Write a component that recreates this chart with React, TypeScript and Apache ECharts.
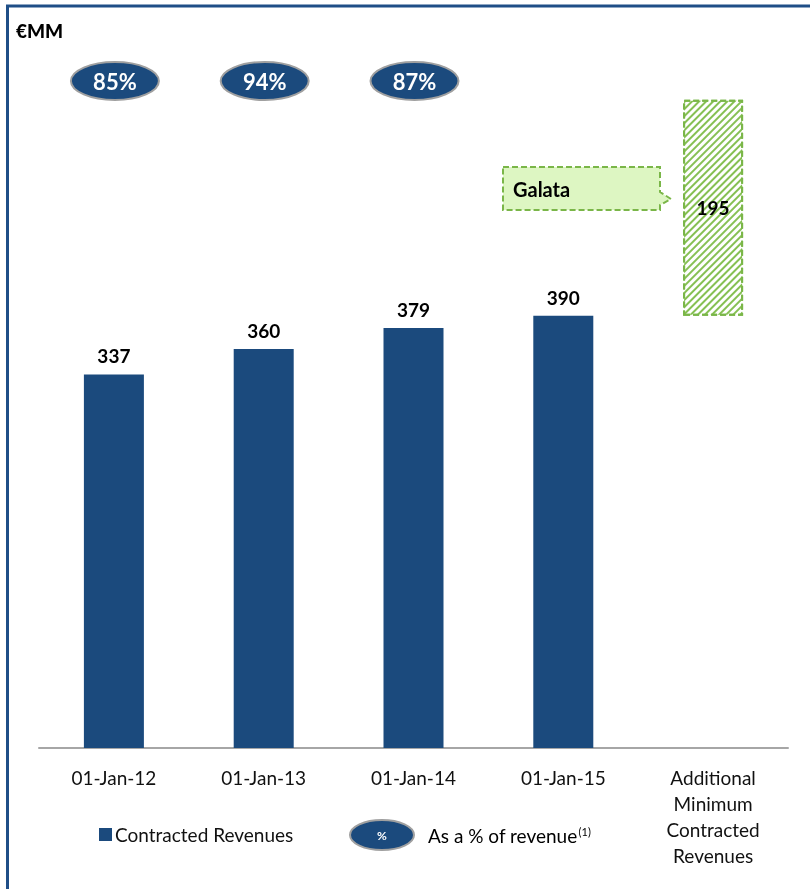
import React, { useEffect, useRef } from "react";
import * as echarts from "echarts";

const categories = ["01-Jan-12", "01-Jan-13", "01-Jan-14", "01-Jan-15", "Additional\nMinimum\nContracted\nRevenues"];
const contracted = [337, 360, 379, 390];
const pctOfRevenue = [85, 94, 87];
const additionalBase = 390;
const additionalMin = 195;
const yMax = 600;

const BLUE = "#1B4A7D";
const GREEN = "#7AB648";
const FONT = "Lato, sans-serif";

export default function App() {
  const ref = useRef<HTMLDivElement>(null);
  useEffect(() => {
    const chart = echarts.init(ref.current!, null, { renderer: "svg" });
    const n = categories.length;
    const contractedData = categories.map((_, i) => (i < contracted.length ? contracted[i] : "-"));
    const baseData = categories.map((_, i) => (i === n - 1 ? additionalBase : "-"));
    const addData = categories.map((_, i) => (i === n - 1 ? additionalMin : "-"));
    const pctData = pctOfRevenue.map((v, i) => [i, yMax, v]);

    chart.setOption({
      animation: false,
      textStyle: { fontFamily: FONT },
      grid: { left: 39, right: 22, top: 83, bottom: 141 },
      xAxis: {
        type: "category",
        data: categories,
        axisLine: { lineStyle: { color: "#A6A6A6", width: 2 } },
        axisTick: { show: false },
        axisLabel: { fontSize: 19, color: "#111", lineHeight: 26, margin: 16, fontFamily: FONT, verticalAlign: "top" },
      },
      yAxis: { type: "value", min: 0, max: yMax, show: false, splitLine: { show: false } },
      legend: {
        data: [{ name: "Contracted Revenues", icon: "rect" }],
        left: 94,
        top: 820,
        itemWidth: 13,
        itemHeight: 13,
        itemGap: 5,
        textStyle: { fontSize: 19, color: "#111", fontFamily: FONT, padding: [0, 0, 0, -2] },
        selectedMode: false,
      },
      series: [
        {
          name: "Contracted Revenues",
          type: "bar",
          stack: "a",
          barWidth: 60,
          data: contractedData,
          itemStyle: { color: BLUE },
          label: { show: true, position: "top", distance: 9, fontSize: 19, fontWeight: "bold", color: "#000", fontFamily: FONT },
        },
        {
          name: "base",
          type: "bar",
          stack: "a",
          barWidth: 60,
          data: baseData,
          itemStyle: { color: "transparent" },
          silent: true,
        },
        {
          name: "Additional",
          type: "bar",
          stack: "a",
          barWidth: 60,
          data: addData,
          itemStyle: {
            color: "#FFFFFF",
            borderColor: GREEN,
            borderWidth: 2,
            borderType: [6, 3],
            decal: {
              symbol: "rect",
              color: "#86C053",
              backgroundColor: "#FFFFFF",
              dashArrayX: [1, 0],
              dashArrayY: [2, 3],
              rotation: -Math.PI / 4,
              symbolSize: 1,
            },
          },
          label: { show: true, position: "inside", fontSize: 19, fontWeight: "bold", color: "#000", fontFamily: FONT },
        },
        {
          name: "pct",
          type: "custom",
          clip: false,
          data: pctData,
          renderItem: (params: any, api: any) => {
            const p = api.coord([api.value(0), api.value(1)]);
            return {
              type: "group",
              children: [
                {
                  type: "ellipse",
                  shape: { cx: p[0] + 1, cy: p[1] - 2, rx: 44, ry: 19 },
                  style: { fill: BLUE, stroke: "#A0A0A0", lineWidth: 2 },
                },
                {
                  type: "text",
                  x: p[0] + 1,
                  y: p[1] - 2,
                  style: {
                    text: api.value(2) + "%",
                    fill: "#fff",
                    fontSize: 22,
                    fontWeight: "bold",
                    fontFamily: FONT,
                    align: "center",
                    verticalAlign: "middle",
                  },
                },
              ],
            };
          },
        },
      ],
      graphic: [
        {
          type: "rect",
          shape: { x: 7.5, y: 6, width: 830, height: 920 },
          style: { fill: "none", stroke: "#1F4E87", lineWidth: 3 },
          silent: true,
        },
        {
          type: "text",
          x: 16,
          y: 30,
          style: { text: "€MM", fontSize: 19, fontWeight: 900, fontFamily: FONT, fill: "#000", verticalAlign: "middle" },
        },
        {
          type: "polygon",
          shape: { points: [[503, 167], [660, 167], [660, 192], [671, 199], [660, 205], [660, 210], [503, 210]] },
          style: { fill: "#DDF6C2", stroke: GREEN, lineWidth: 2, lineDash: [6, 3] },
        },
        {
          type: "text",
          x: 513,
          y: 189,
          style: { text: "Galata", fontSize: 20, fontWeight: "bold", fontFamily: FONT, fill: "#000", verticalAlign: "middle" },
        },
        {
          type: "ellipse",
          shape: { cx: 382, cy: 835, rx: 32, ry: 15 },
          style: { fill: BLUE, stroke: "#A0A0A0", lineWidth: 2 },
        },
        {
          type: "text",
          x: 382,
          y: 835,
          style: { text: "%", fontSize: 12, fontWeight: "bold", fontFamily: FONT, fill: "#fff", align: "center", verticalAlign: "middle" },
        },
        {
          type: "text",
          x: 428,
          y: 835,
          style: {
            text: "{m|As a % of revenue}{s|(1)}",
            verticalAlign: "middle",
            rich: {
              m: { fontSize: 19, fontFamily: FONT, color: "#111" },
              s: { fontSize: 11, fontFamily: FONT, color: "#111", verticalAlign: "top", padding: [0, 0, 8, 1] },
            },
          },
        },
      ],
    });
    return () => chart.dispose();
  }, []);
  return <div ref={ref} style={{ position: "fixed", left: 0, top: 0, width: 810, height: 889 }} />;
}
